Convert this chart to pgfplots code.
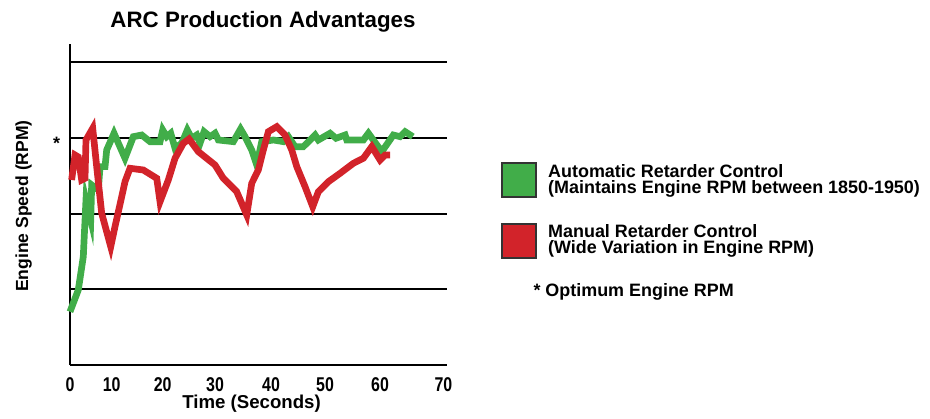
\documentclass[border=0pt]{standalone}
\usepackage{fontspec}
\setmainfont{Liberation Sans}
\newfontfamily\tickfont{Liberation Sans}[FakeStretch=0.8]
\usepackage{pgfplots}
\pgfplotsset{compat=1.18}
\definecolor{arcgreen}{RGB}{65,173,73}
\definecolor{arcred}{RGB}{210,35,42}
\begin{document}
\begin{tikzpicture}[x=1bp,y=1bp]
\path[use as bounding box] (0,0) rectangle (930,418);
\begin{axis}[
 at={(70bp,53bp)}, anchor=south west,
 scale only axis, width=376.7bp, height=321bp,
 xmin=0, xmax=70, ymin=0, ymax=4.24,
 axis x line*=bottom, axis y line*=left,
 axis line style={line width=2.3bp, black, -},
 ytick={1,2,3,4}, yticklabels={},
 ymajorgrids, major grid style={black, line width=2bp},
 major tick length=0pt,
 xtick={0,7.75,17.23,26.95,37.36,47.40,57.62,69.39},
 xticklabels={0,10,20,30,40,50,60,70},
 xticklabel style={font=\tickfont\bfseries\fontsize{20}{20}\selectfont, anchor=base, inner sep=0pt, yshift=-26.2bp},
 xlabel={Time (Seconds)},
 xlabel style={at={(axis description cs:0.482,-0.1345)}, anchor=base, inner sep=0pt, font=\bfseries\fontsize{18.7}{20}\selectfont},
 ylabel={Engine Speed (RPM)},
 ylabel style={at={(axis description cs:-0.1229,0.4953)}, anchor=center, inner sep=0pt, font=\bfseries\fontsize{17.6}{20}\selectfont},
 clip=false,
]
\addplot[arcgreen, line width=6.7bp, line join=miter] coordinates {
(0,0.704) (1.54,0.991) (2.47,1.431) (2.97,2.180) (3.85,1.915) (4.03,2.378)
(5.26,2.312) (5.58,2.620) (6.51,2.620) (6.82,2.840) (8.18,3.061) (10.22,2.731)
(11.77,3.016) (13.33,3.038) (14.87,2.950) (16.73,2.950) (17.23,3.104) (17.97,3.016)
(18.72,3.061) (19.52,2.863) (20.76,2.929) (21.80,3.104) (22.62,2.995) (23.55,3.038)
(24.16,2.929) (24.91,3.082) (26.02,3.016) (26.95,3.061) (27.57,2.972) (30.35,2.950)
(31.69,3.117) (32.53,3.016) (33.77,2.840) (34.70,2.642) (35.63,2.950) (37.79,2.972)
(39.65,2.950) (40.58,3.016) (41.82,2.884) (43.36,2.884) (44.61,2.972) (45.54,3.038)
(46.15,2.972) (48.33,3.061) (49.44,2.995) (51.12,3.038) (51.43,2.972) (54.52,2.972)
(55.45,3.061) (57.94,2.818) (60.09,3.038) (61.34,3.016) (62.27,3.082) (63.70,3.016)
};
\addplot[arcred, line width=6.7bp, line join=miter] coordinates {
(0.3,2.444) (0.93,2.774) (1.54,2.748) (2.17,2.444) (2.79,2.466) (2.97,2.972)
(4.22,3.127) (4.96,2.620) (5.89,2.004) (7.57,1.563) (8.36,1.827) (9.61,2.223)
(10.22,2.421) (11.15,2.598) (13.62,2.576) (16.12,2.466) (16.73,2.157) (18.27,2.444)
(19.52,2.731) (21.06,2.929) (22.12,2.985) (23.85,2.818) (26.95,2.642) (28.49,2.466)
(30.98,2.289) (32.84,1.982) (33.77,2.400) (35.00,2.576) (35.93,2.840) (36.86,3.082)
(38.42,3.148) (39.96,3.038) (41.21,2.840) (42.14,2.620) (43.68,2.355) (45.11,2.091)
(46.15,2.289) (48.01,2.421) (50.19,2.532) (52.66,2.664) (54.52,2.731) (56.08,2.884)
(57.62,2.708) (58.55,2.774) (59.48,2.774)
};
\end{axis}
\node[anchor=base, inner sep=0pt, font=\bfseries\fontsize{22.4}{24}\selectfont] at (263,390.3) {ARC Production Advantages};
\node[anchor=base, inner sep=0pt, font=\bfseries\fontsize{18}{20}\selectfont] at (56.7,268.4) {*};
\filldraw[fill=arcgreen, draw=black!80, line width=1.5bp] (502,221) rectangle (536,255);
\filldraw[fill=arcred, draw=black!80, line width=1.5bp] (502,160) rectangle (536,194);
\begin{scope}[every node/.style={anchor=base west, inner sep=0pt, font=\bfseries\fontsize{18}{20}\selectfont}]
\node at (548,240.7) {Automatic Retarder Control};
\node at (548,224.2) {(Maintains Engine RPM between 1850-1950)};
\node at (548,180.7) {Manual Retarder Control};
\node at (548,164.2) {(Wide Variation in Engine RPM)};
\node at (533.3,122) {* Optimum Engine RPM};
\end{scope}
\end{tikzpicture}
\end{document}
